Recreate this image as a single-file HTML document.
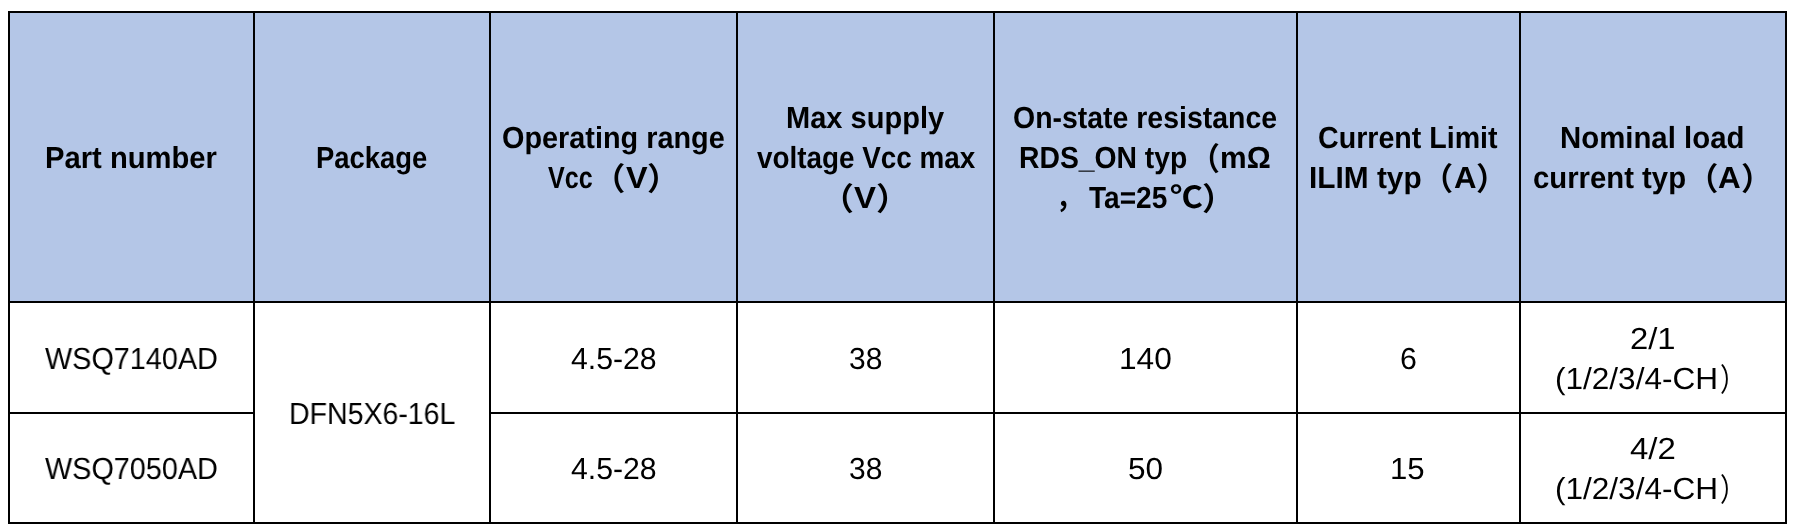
<!DOCTYPE html>
<html>
<head>
<meta charset="utf-8">
<title>Product table</title>
<style>
html,body{margin:0;padding:0;background:#fff;width:1798px;height:532px;overflow:hidden;}
table{position:absolute;left:8px;top:11px;border-collapse:separate;border-spacing:0;
  border-left:2px solid #000;border-top:2px solid #000;table-layout:fixed;
  text-rendering:geometricPrecision;will-change:transform;
  font-family:"Liberation Sans","Noto Sans CJK SC",sans-serif;font-size:30.5px;line-height:40px;color:#000;}
td,th{border-right:2px solid #000;border-bottom:2px solid #000;padding:0;text-align:left;vertical-align:middle;white-space:nowrap;box-sizing:border-box;}
th{background:#b4c6e7;font-weight:bold;height:290px;padding-top:2px;}
td{font-weight:normal;}
tr.r1 td{height:111px;padding-top:2px;}
tr.r2 td{height:110px;padding-top:1px;}
td.rs{padding-top:1px;}
.l{display:block;position:relative;height:40px;}
.g{position:absolute;top:0;transform-origin:0 0;white-space:nowrap;}
.p{transform-origin:0 30.57px;}
</style>
</head>
<body>
<table>
<colgroup><col style="width:245px"><col style="width:236px"><col style="width:247px"><col style="width:257px"><col style="width:303px"><col style="width:223px"><col style="width:266px"></colgroup>
<tr><th><span class="l"><span class="g" style="left:34.59px;transform:scaleX(0.9568)">Part number</span></span></th><th><span class="l"><span class="g" style="left:60.90px;transform:scaleX(0.8980)">Package</span></span></th><th><span class="l"><span class="g" style="left:11.05px;transform:scaleX(0.9452)">Operating range</span></span><span class="l"><span class="g" style="left:56.90px;transform:scaleX(0.8231)">Vcc</span><span class="g p" style="left:102.18px;transform:translateY(2.3px) scale(1.0611,1.03)">（</span><span class="g" style="left:134.54px;transform:scaleX(1.0611)">V</span><span class="g p" style="left:156.13px;transform:translateY(2.3px) scale(1.0611,1.03)">）</span></span></th><th><span class="l"><span class="g" style="left:47.80px;transform:scaleX(0.9523)">Max supply</span></span><span class="l"><span class="g" style="left:18.60px;transform:scaleX(0.9135)">voltage Vcc max</span></span><span class="l"><span class="g p" style="left:83.00px;transform:translateY(2.3px) scale(1.0802,1.03)">（</span><span class="g" style="left:115.94px;transform:scaleX(1.0802)">V</span><span class="g p" style="left:137.92px;transform:translateY(2.3px) scale(1.0802,1.03)">）</span></span></th><th><span class="l"><span class="g" style="left:18.37px;transform:scaleX(0.9327)">On-state resistance</span></span><span class="l"><span class="g" style="left:24.44px;transform:scaleX(0.9284)">RDS_ON typ</span><span class="g p" style="left:195.06px;transform:translateY(2.3px) scale(0.9818,1.03)">（</span><span class="g" style="left:225.01px;transform:scaleX(0.9818)">mΩ</span></span><span class="l"><span class="g" style="left:61.00px;transform:scaleX(0.8750)">，</span><span class="g" style="left:93.80px;transform:scaleX(0.9201)">Ta=25</span><span class="g" style="left:174.60px;transform:scaleX(1.0747)">℃</span><span class="g p" style="left:207.38px;transform:translateY(2.3px) scale(1.0747,1.03)">）</span></span></th><th><span class="l"><span class="g" style="left:20.26px;transform:scaleX(0.9379)">Current Limit</span></span><span class="l"><span class="g" style="left:10.64px;transform:scaleX(0.9780)">ILIM typ</span><span class="g p" style="left:124.45px;transform:translateY(2.3px) scale(1.0224,1.03)">（</span><span class="g" style="left:155.63px;transform:scaleX(1.0224)">A</span><span class="g p" style="left:178.15px;transform:translateY(2.3px) scale(1.0224,1.03)">）</span></span></th><th><span class="l"><span class="g" style="left:39.37px;transform:scaleX(0.9630)">Nominal load</span></span><span class="l"><span class="g" style="left:11.74px;transform:scaleX(0.9608)">current typ</span><span class="g p" style="left:165.61px;transform:translateY(2.3px) scale(1.0293,1.03)">（</span><span class="g" style="left:197.01px;transform:scaleX(1.0293)">A</span><span class="g p" style="left:219.68px;transform:translateY(2.3px) scale(1.0293,1.03)">）</span></span></th></tr>
<tr class="r1"><td><span class="l"><span class="g" style="left:35.20px;transform:scaleX(0.9443)">WSQ7140AD</span></span></td><td rowspan="2" class="rs"><span class="l"><span class="g" style="left:33.73px;transform:scaleX(0.9347)">DFN5X6-16L</span></span></td><td><span class="l"><span class="g" style="left:79.90px;transform:scaleX(0.9904)">4.5-28</span></span></td><td><span class="l"><span class="g" style="left:110.82px;transform:scaleX(0.9824)">38</span></span></td><td><span class="l"><span class="g" style="left:123.73px;transform:scaleX(1.0370)">140</span></span></td><td><span class="l"><span class="g" style="left:101.71px;transform:scaleX(0.9933)">6</span></span></td><td><span class="l"><span class="g" style="left:108.92px;transform:scaleX(1.0758)">2/1</span></span><span class="l"><span class="g" style="left:34.07px;transform:scaleX(1.0342)">(1/2/3/4-CH</span><span class="g p" style="left:199.26px;transform:translateY(2.3px) scale(0.8444,1.03)">）</span></span></td></tr>
<tr class="r2"><td><span class="l"><span class="g" style="left:35.20px;transform:scaleX(0.9443)">WSQ7050AD</span></span></td><td><span class="l"><span class="g" style="left:79.90px;transform:scaleX(0.9904)">4.5-28</span></span></td><td><span class="l"><span class="g" style="left:110.82px;transform:scaleX(0.9824)">38</span></span></td><td><span class="l"><span class="g" style="left:132.67px;transform:scaleX(1.0325)">50</span></span></td><td><span class="l"><span class="g" style="left:92.36px;transform:scaleX(1.0206)">15</span></span></td><td><span class="l"><span class="g" style="left:108.70px;transform:scaleX(1.0812)">4/2</span></span><span class="l"><span class="g" style="left:34.07px;transform:scaleX(1.0342)">(1/2/3/4-CH</span><span class="g p" style="left:199.26px;transform:translateY(2.3px) scale(0.8444,1.03)">）</span></span></td></tr>
</table>
</body>
</html>
